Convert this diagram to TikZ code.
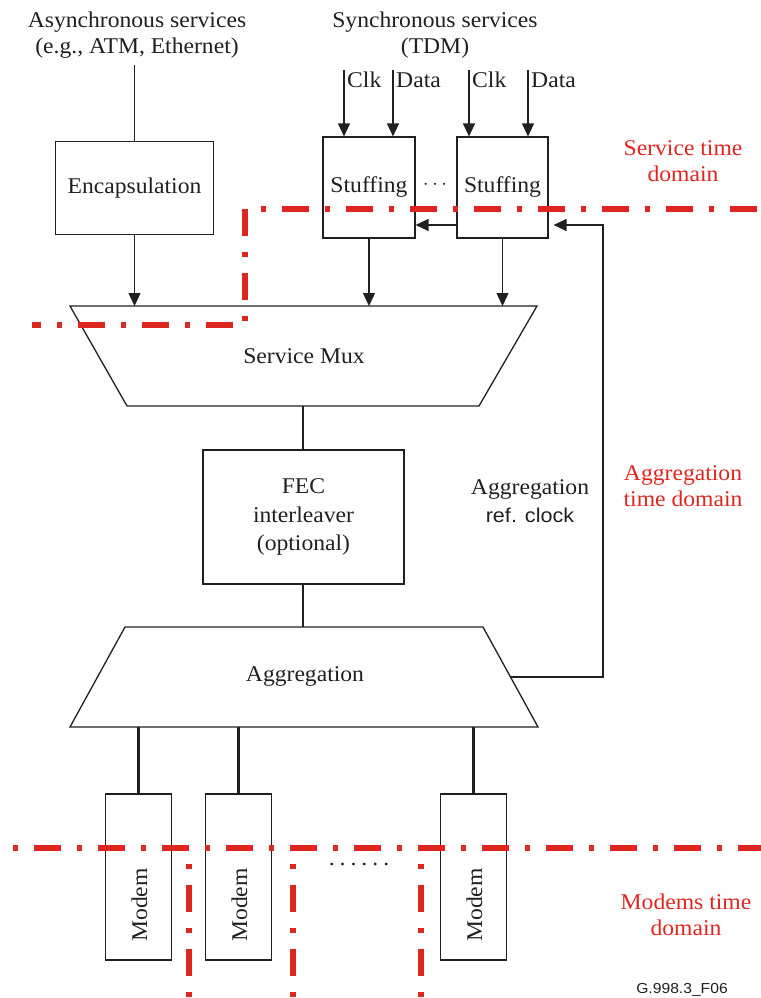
\documentclass[tikz,border=0pt]{standalone}
\usepackage{fontspec}
\usepackage{graphicx}
\setmainfont[FakeStretch=1.05]{Liberation Serif}
\setsansfont[FakeStretch=1.08]{Liberation Sans}
\usetikzlibrary{arrows.meta,calc}

\definecolor{ink}{RGB}{35,31,32}
\definecolor{domred}{RGB}{222,38,32}

\tikzset{
  base/.style={font=\fontsize{22.5}{26}\selectfont, text=ink, inner sep=0pt},
  blockbox/.style={base, draw=ink, line width=1.2pt, align=center},
  modembox/.style={draw=ink, line width=1.2pt, minimum width=66pt, minimum height=166pt, inner sep=0pt},
  wire/.style={draw=ink, line width=1.3pt},
  fatwire/.style={draw=ink, line width=2.6pt},
  arr/.style={wire, -{Triangle[length=13pt,width=12pt]}},
  domline/.style={draw=domred, line width=6pt, line join=miter,
                 dash pattern=on 27pt off 16pt on 5pt off 16pt},
  domdot/.style={domline, dash pattern=on 5pt off 16pt on 27pt off 16pt},
  domlabel/.style={base, text=domred, align=center},
}

\begin{document}
\begin{tikzpicture}[x=1pt, y=-1pt]
\useasboundingbox (0,0) rectangle (760,998);

% ---- service inputs ----
\node[base, align=center] (async) at (137,35) {Asynchronous services\\(e.g., ATM, Ethernet)};
\node[base, align=center] (sync) at (435,35) {Synchronous services\\(TDM)};

% ---- upper blocks ----
\node[blockbox, minimum width=158pt, minimum height=93pt] (enc) at (134.5,188) {Encapsulation};
\node[blockbox, minimum width=92pt, minimum height=101pt] (s1) at (369,187.5) {Stuffing};
\node[blockbox, minimum width=91pt, minimum height=101pt] (s2) at (502.5,187.5) {Stuffing};
\node[base] (sdots) at (435,185) {$\cdots$};

% clock and data inputs of the stuffing blocks
\coordinate (clk1) at (344,70);
\coordinate (dat1) at (393,70);
\coordinate (clk2) at (469,70);
\coordinate (dat2) at (528,70);
\draw[arr] (clk1) -- (clk1 |- s1.north);
\draw[arr] (dat1) -- (dat1 |- s1.north);
\draw[arr] (clk2) -- (clk2 |- s2.north);
\draw[arr] (dat2) -- (dat2 |- s2.north);
\node[base, anchor=west] (lclk1) at (347,80) {Clk};
\node[base, anchor=west] (ldat1) at (396,80) {Data};
\node[base, anchor=west] (lclk2) at (472,80) {Clk};
\node[base, anchor=west] (ldat2) at (531,80) {Data};

% asynchronous input into the encapsulation block
\coordinate (ain) at (134.5,65);
\draw[wire] (ain) -- (enc.north);

% ---- service multiplexer ----
\coordinate (mux-tl) at (70,306);
\coordinate (mux-tr) at (537,306);
\coordinate (mux-br) at (479,406);
\coordinate (mux-bl) at (127,406);
\draw[wire, line join=miter] (mux-tl) -- (mux-tr) -- (mux-br) -- (mux-bl) -- cycle;
\node[base] (muxlabel) at (304,356) {Service Mux};
\coordinate (mux-b) at ($(mux-bl)!0.5!(mux-br)$);

\draw[arr] (enc.south) -- (enc.south |- mux-tl);
\draw[arr] (s1.south) -- (s1.south |- mux-tl);
\draw[arr] (s2.south) -- (s2.south |- mux-tl);

% ---- FEC ----
\node[blockbox, minimum width=201pt, minimum height=134pt,
      font=\fontsize{22.5}{28.5}\selectfont] (fec) at (303.5,517) {FEC\\interleaver\\(optional)};
\draw[wire] (mux-b) -- (mux-b |- fec.north);

% ---- aggregation ----
\coordinate (agg-tl) at (125,627);
\coordinate (agg-tr) at (483,627);
\coordinate (agg-br) at (538,727);
\coordinate (agg-bl) at (70,727);
\draw[wire, line join=miter] (agg-tl) -- (agg-tr) -- (agg-br) -- (agg-bl) -- cycle;
\node[base] (agglabel) at (305,676) {Aggregation};
\draw[wire] (mux-b |- fec.south) -- (mux-b |- agg-tl);

% aggregation reference clock back to the stuffing blocks
\coordinate (agg-r) at ($(agg-tr)!0.5!(agg-br)$);
\coordinate (rcb) at (603,677);
\coordinate (rct) at (603,225);
\draw[arr, shorten >=5pt] (agg-r) -- (rcb) -- (rct) -- (rct -| s2.east);
\coordinate (lnk) at (457,225);
\draw[arr] (lnk) -- (lnk -| s1.east);
\node[base, align=center, font=\fontsize{22.5}{28}\selectfont] (rclabel) at (530,501)
  {Aggregation\\{\sffamily\fontsize{20}{28}\selectfont ref. clock}};

% ---- modems ----
\node[modembox] (m1) at (138.5,877) {};
\node[modembox] (m2) at (238.5,877) {};
\node[modembox] (m3) at (473.5,877) {};
\node[base, rotate=90] (t1) at (139.5,905) {Modem};
\node[base, rotate=90] (t2) at (239.5,905) {Modem};
\node[base, rotate=90] (t3) at (474.5,905) {Modem};
\node[base] (mdots) at (359,864) {.\kern5pt.\kern5pt.\kern5pt.\kern5pt.\kern5pt.};
\draw[fatwire] (m1.north |- agg-bl) -- (m1.north);
\draw[fatwire] (m2.north |- agg-bl) -- (m2.north);
\draw[fatwire] (m3.north |- agg-bl) -- (m3.north);

% ---- time domain boundaries ----
\draw[domline] (245,209) -- (245,325) -- (32,325);
\draw[domline, dash phase=27pt] (245,209) -- (762,209);
\draw[domdot] (13,848) -- (762,848);
\draw[domdot, dash phase=48pt] (189,848) -- (189,1000);
\draw[domdot, dash phase=48pt] (293,848) -- (293,1000);
\draw[domdot, dash phase=48pt] (421,848) -- (421,1000);

\node[domlabel] (dsvc) at (683,161) {Service time\\domain};
\node[domlabel] (dagg) at (683,486) {Aggregation\\time domain};
\node[domlabel] (dmod) at (686,915) {Modems time\\domain};

\node[inner sep=0pt, text=ink, font=\sffamily\fontsize{14.5}{16}\selectfont] (fig) at (682,990) {G.998.3\_F06};
\end{tikzpicture}
\end{document}
